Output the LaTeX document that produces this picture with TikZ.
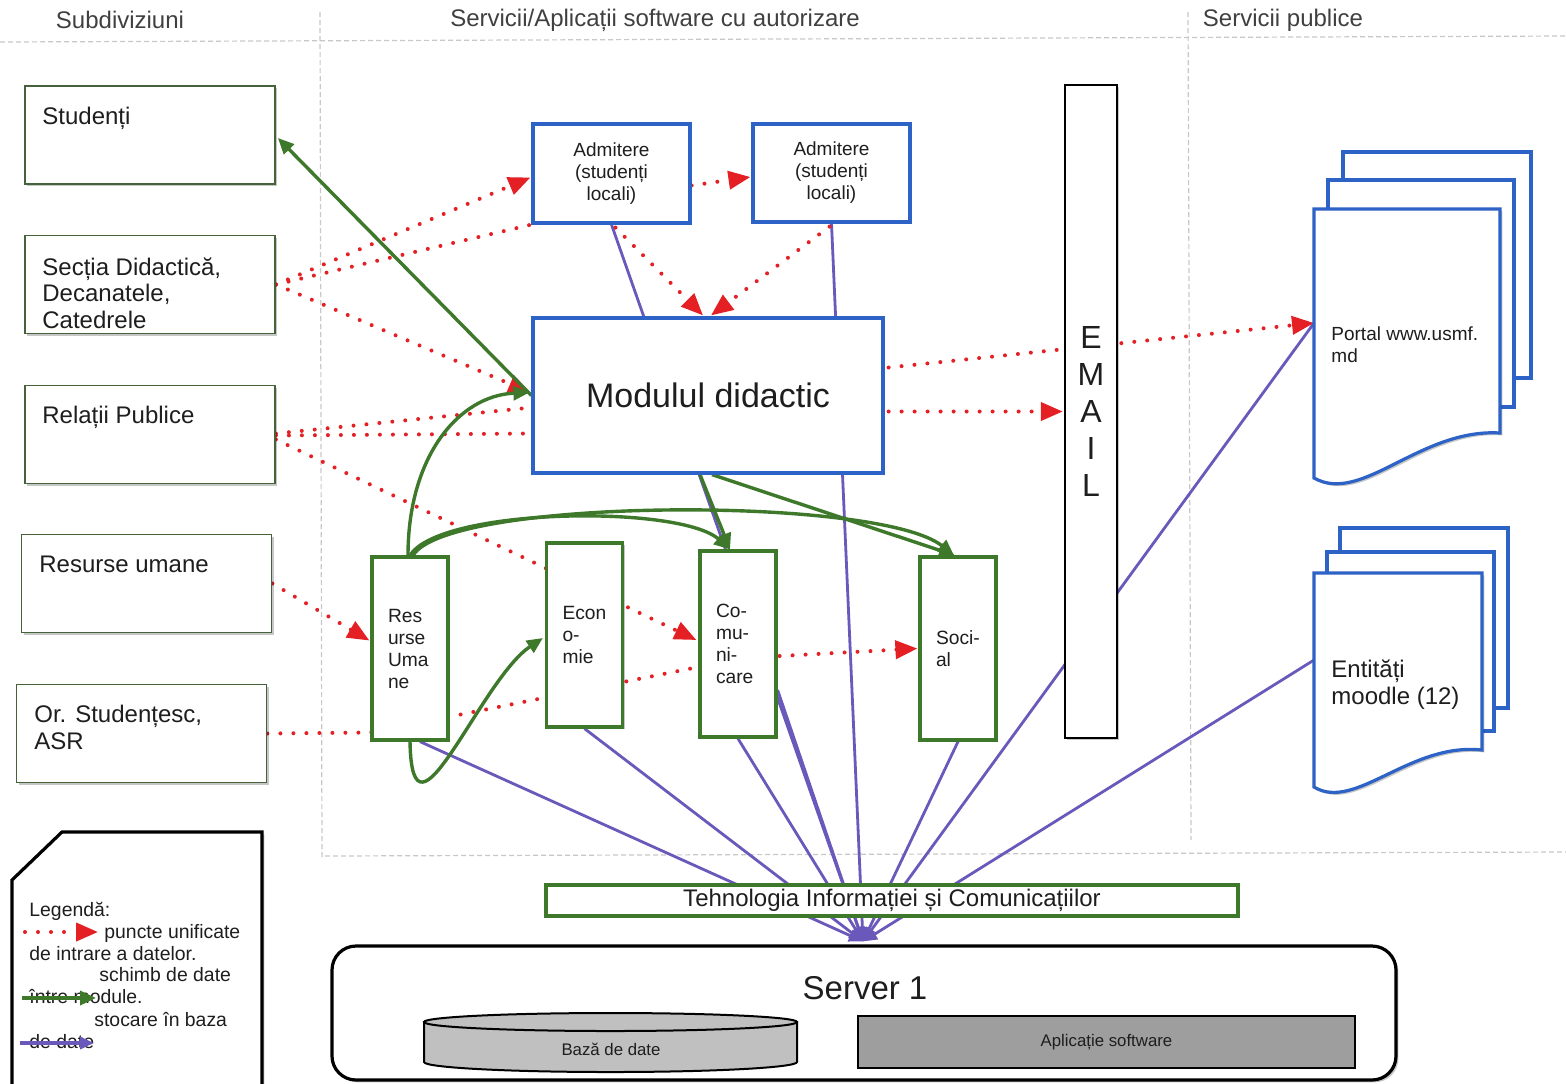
\documentclass[tikz,border=0pt]{standalone}
\usepackage{fontspec}
\setmainfont{Liberation Sans}
\usetikzlibrary{arrows.meta,shadows}
\pgfdeclarelayer{bgzero}
\pgfdeclarelayer{bgone}
\pgfsetlayers{bgzero,bgone,main}
\definecolor{cred}{RGB}{228,32,36}
\definecolor{cgreen}{RGB}{62,120,42}
\definecolor{cleaf}{RGB}{70,98,58}
\definecolor{cblue}{RGB}{45,98,198}
\definecolor{cpurp}{RGB}{106,88,186}
\definecolor{cgrid}{RGB}{200,200,200}
\definecolor{ctext}{RGB}{30,30,30}
\definecolor{cdb}{RGB}{192,192,192}
\definecolor{capp}{RGB}{158,158,158}
\tikzset{
 shad/.style={drop shadow={shadow xshift=1.2pt,shadow yshift=-1.2pt,opacity=0.22,fill=black}},
 leftbox/.style={draw=cleaf,line width=0.9pt,fill=white,inner sep=0pt,minimum width=125pt,minimum height=49pt,shad},
 lbltext/.style={anchor=north west,inner sep=0pt,align=left,font=\fontsize{12}{13.4}\selectfont,text=ctext},
 bluebox/.style={draw=cblue,line width=1.6pt,fill=white,inner sep=0pt,align=center,text=ctext,shad},
 modbox/.style={draw=cgreen,line width=1.6pt,fill=white,inner xsep=8pt,inner ysep=0pt,text width=22pt,align=left,font=\fontsize{9.6}{11}\selectfont,text=ctext,shad},
 hdr/.style={font=\fontsize{12}{14}\selectfont,text=ctext!85,inner sep=0pt},
 gridline/.style={cgrid,line width=0.6pt,dash pattern=on 2.5pt off 1.5pt},
 redline/.style={cred,line width=2pt,dash pattern=on 0pt off 6.5pt,line cap=round},
 redarr/.style={redline,-{Triangle[length=11pt,width=9pt]}},
 greenarr/.style={cgreen,line width=1.7pt,-{Triangle[length=8pt,width=7pt]}},
 purparr/.style={cpurp,line width=1.4pt,-{Triangle[length=7pt,width=6pt]}},
 page/.style={draw=cblue,line width=1.6pt,fill=white,shad},
 legtext/.style={anchor=base west,inner sep=0pt,font=\fontsize{9.7}{11}\selectfont,text=ctext},
}
\begin{document}
\begin{tikzpicture}[x=0.5pt,y=-0.5pt]
\useasboundingbox (0,0) rectangle (1566,1083);
\begin{pgfonlayer}{bgzero}
\fill[white] (0,0) rectangle (1566,1083);
\draw[gridline] (0,42) -- (1566,36);
\draw[gridline] (320,12) -- (322,858);
\draw[gridline] (1188,12) -- (1191,840);
\draw[gridline] (325,856) -- (1566,852);
\end{pgfonlayer}

% headers
\node[hdr] (h1) at (120,20) {Subdiviziuni};
\node[hdr] (h2) at (655,20) {Servicii/Aplicații software cu autorizare};
\node[hdr] (h3) at (1283,20) {Servicii publice};

% left boxes
\node[leftbox] (stud) at (150,135) {};
\node[lbltext] (studT) at (42,107) {Studenți};
\node[leftbox] (sec) at (150,284.5) {};
\node[lbltext] (secT) at (42,257) {Secția Didactică,\\Decanatele,\\Catedrele};
\node[leftbox] (rel) at (150,434.5) {};
\node[lbltext] (relT) at (42,406) {Relații Publice};
\node[leftbox] (rum) at (146.5,583.5) {};
\node[lbltext] (rumT) at (39,556) {Resurse umane};
\node[leftbox] (ors) at (141.5,733.5) {};
\node[lbltext] (orsT) at (34,705) {Or. Studențesc,\\ASR};

% blue boxes
\node[bluebox,minimum width=78.5pt,minimum height=49.5pt,font=\fontsize{9.5}{11}\selectfont] (a1) at (611.5,173.5) {Admitere\\(studenți\\locali)};
\node[bluebox,minimum width=78.5pt,minimum height=49pt,font=\fontsize{9.5}{11}\selectfont] (a2) at (831.5,173) {Admitere\\(studenți\\locali)};
\node[bluebox,minimum width=175pt,minimum height=77.5pt,font=\fontsize{17}{20}\selectfont] (mod) at (708,395.5) {Modulul didactic};
\node[draw=black,line width=1.2pt,fill=white,inner sep=0pt,minimum width=26pt,minimum height=326.5pt,align=center,font=\fontsize{16}{18.5}\selectfont,text=ctext,shad] (email) at (1091,411.5) {E\\M\\A\\I\\L};

% module boxes
\node[modbox,minimum height=91.5pt] (res) at (410,648.5) {Res\\urse\\Uma\\ne};
\node[modbox,minimum height=92pt] (econ) at (584.5,635) {Econ\\o-\\mie};
\node[modbox,minimum height=93pt] (com) at (738,644) {Co-\\mu-\\ni-\\care};
\node[modbox,minimum height=91.5pt] (soc) at (958,648.5) {Soci-\\al};

% TIC and server
\node[draw=cgreen,line width=1.6pt,fill=white,inner sep=0pt,minimum width=346pt,minimum height=15.5pt,font=\fontsize{12}{14}\selectfont,text=ctext,shad] (tic) at (892,900.5) {Tehnologia Informației și Comunicațiilor};
\node[draw=black,line width=1.6pt,fill=white,rounded corners=12pt,minimum width=532pt,minimum height=67pt,inner sep=0pt,shad] (server) at (864,1013) {};
\node[font=\fontsize{16.5}{18}\selectfont,inner sep=0pt,text=ctext] (serverT) at (865,988) {Server 1};
\filldraw[fill=cdb,draw=black,line width=1pt] (424,1022) -- (424,1062) arc[start angle=180,end angle=0,x radius=186.5,y radius=10] -- (797,1022) -- cycle;
\filldraw[fill=cdb,draw=black,line width=1pt] (610.5,1022) ellipse[x radius=186.5,y radius=9];
\node[font=\fontsize{8.4}{10}\selectfont,inner sep=0pt,text=ctext] (dbT) at (611,1049) {Bază de date};
\node[draw=black,line width=1.2pt,fill=capp,minimum width=248.5pt,minimum height=26pt,inner sep=0pt,font=\fontsize{8.4}{10}\selectfont,text=ctext] (app) at (1106.5,1042) {Aplicație software};

% document stacks
\filldraw[page] (1343,152) rectangle (1531,378);
\filldraw[page] (1328,180) rectangle (1514,407);
\filldraw[page] (1314,209) -- (1500,209) -- (1500,433) .. controls (1420,428) and (1362,505) .. (1314,478) -- cycle;
\coordinate (portalL) at (1314,323);
\node[anchor=north west,inner sep=0pt,align=left,font=\fontsize{9.5}{11}\selectfont,text=ctext] (portalT) at (1331,326) {Portal www.usmf.\\md};
\filldraw[page] (1340,528) rectangle (1508,708);
\filldraw[page] (1327,552) rectangle (1494,731);
\filldraw[page] (1314,573) -- (1482,573) -- (1482,750) .. controls (1410,742) and (1355,812) .. (1314,787) -- cycle;
\coordinate (moodleL) at (1314,660);
\node[anchor=north west,inner sep=0pt,align=left,font=\fontsize{12}{13.5}\selectfont,text=ctext] (moodleT) at (1331,659) {Entități\\moodle (12)};

% legend
\filldraw[fill=white,draw=black,line width=1.6pt,shad] (12,1095) -- (12,880) -- (62,832) -- (262,832) -- (262,1095) -- cycle;
\node[legtext] (lg1) at (29,916) {Legendă:};
\node[legtext] (lg2) at (104,938) {puncte unificate};
\node[legtext] (lg3) at (29,960) {de intrare a datelor.};
\node[legtext] (lg4) at (99,981) {schimb de date};
\node[legtext] (lg5) at (29,1003) {între module.};
\node[legtext] (lg6) at (94,1026) {stocare în baza};
\node[legtext] (lg7) at (29,1048) {de date};
\coordinate (lr1) at (25,932); \coordinate (lr2) at (98,932);
\coordinate (lgr1) at (22,998); \coordinate (lgr2) at (96,998);
\coordinate (lp1) at (20,1043); \coordinate (lp2) at (94,1043);
\draw[redarr] (lr1) -- (lr2);
\draw[greenarr] (lgr1) -- (lgr2);
\draw[purparr,line width=1.8pt] (lp1) -- (lp2);

% connectors
\begin{pgfonlayer}{bgone}
\coordinate (srv) at ([shift={(-1,-3)}]server.north);
\foreach \p in {(a1.south),(a2.south),([shift={(10,0)}]res.south),(econ.south),(com.south),([shift={(0,46)}]com.east),(soc.south),(portalL),(moodleL)}
  \draw[purparr] \p -- (srv);

\draw[redarr] (sec.east) -- ([shift={(-1,4)}]a1.west);
\draw[redline] (sec.east) -- (a1.south west);
\draw[redarr] (sec.east) -- ([shift={(-1,-3)}]mod.west);
\draw[redline] ([shift={(0,-1)}]rel.east) -- ([shift={(0,12)}]mod.west);
\draw[redline] ([shift={(0,1)}]rel.east) -- ([shift={(0,38)}]mod.west);
\draw[redarr] ([shift={(0,5)}]rel.east) -- ([shift={(-2,-4)}]com.west);
\draw[redarr] (rum.east) -- ([shift={(-1,-8)}]res.west);
\draw[redline] (ors.east) -- ([shift={(0,84)}]res.west) -- ([shift={(0,23)}]com.west);
\draw[redarr] ([shift={(2,12)}]com.east) -- ([shift={(-1,0)}]soc.west);
\draw[redarr] ([shift={(0,12)}]a1.east) -- ([shift={(-1,4)}]a2.west);
\draw[redarr] ([shift={(4,3)}]a1.south) -- ([shift={(-5,-1)}]mod.north);
\draw[redarr] ([shift={(-2,3)}]a2.south) -- ([shift={(3,-1)}]mod.north);
\draw[redarr] ([shift={(4,-28)}]mod.east) -- (portalL);
\draw[redarr] ([shift={(4,16)}]mod.east) -- ([shift={(-1,0)}]email.west);

\draw[greenarr] (mod.west) -- ([shift={(2,3)}]stud.east);
\draw[greenarr] ([shift={(-2,0)}]res.north) .. controls +(0,-100) and +(-70,3) .. ([shift={(-2,-3)}]mod.west);
\draw[greenarr] (res.north) .. controls +(30,-48) and +(-50,-45) .. ([shift={(-8,0)}]com.north);
\draw[greenarr] ([shift={(3,0)}]res.north) .. controls +(35,-58) and +(-75,-60) .. ([shift={(-4,0)}]soc.north);
\draw[greenarr] (res.south) .. controls +(2,120) and +(-63,42) .. ([shift={(-2,3)}]econ.west);
\draw[greenarr] ([shift={(-8,0)}]mod.south) -- ([shift={(-8,0)}]com.north);
\draw[greenarr] ([shift={(4,0)}]mod.south) -- ([shift={(-3,0)}]soc.north);
\end{pgfonlayer}
\end{tikzpicture}
\end{document}
